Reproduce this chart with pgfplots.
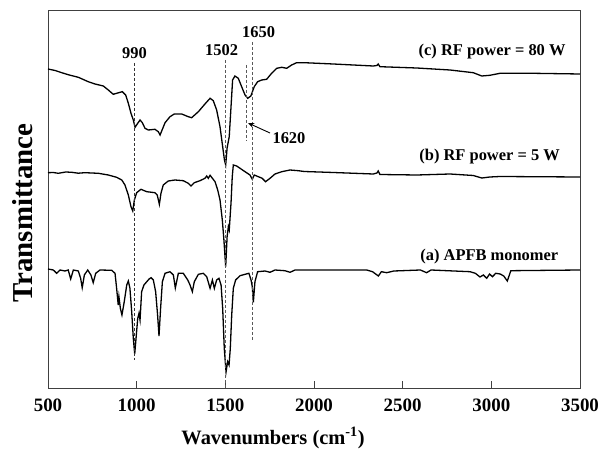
\documentclass[border=0pt]{standalone}
\usepackage{fontspec}
\setmainfont{Liberation Serif}
\usepackage{pgfplots}
\pgfplotsset{compat=1.18}
\usetikzlibrary{arrows.meta}

\begin{document}
\begin{tikzpicture}
\begin{axis}[
  scale only axis, width=532bp, height=378bp,
  xmin=500, xmax=3500, ymin=0, ymax=378,
  xtick={500,1000,1500,2000,2500,3000,3500}, ytick=\empty,
  xtick pos=bottom, tick align=inside, major tick length=7bp,
  axis line style={black!75, line width=0.8bp},
  every tick/.style={black!75, line width=0.8bp},
  /pgf/number format/1000 sep={},
  /pgf/number format/assume math mode=true,
  ticklabel style={font=\bfseries\fontsize{19}{19}\selectfont},
  xticklabel style={yshift=-7bp},
  xlabel={Wavenumbers (cm\textsuperscript{-1})},
  xlabel style={font=\bfseries\fontsize{20.5}{22}\selectfont, at={(axis description cs:0.423,-0.132)}, anchor=center},
  ylabel={Transmittance},
  ylabel style={font=\bfseries\fontsize{29}{30}\selectfont, at={(axis description cs:-0.047,0.463)}, anchor=center},
  clip=false,
]
% (c) RF power = 80 W
\addplot[black, line width=1.3bp] coordinates {
(500,319) (540,317.5) (577,315.3) (620,313) (671,310.7) (727,306.3) (765,304) (812,302) (840,298)
(868,293.7) (887,294.7) (919,296.3) (938,293) (953,284.7) (968,274.7) (981,268) (991,260.7)
(1006,264.7) (1019,268) (1032,265.3) (1047,259.7) (1066,258) (1103,258.7) (1122,256.3) (1132,253)
(1145,258.7) (1160,265.3) (1188,271.3) (1212,274) (1254,274) (1291,271.3) (1310,270.3) (1348,276.3)
(1385,284) (1414,289.7) (1432,287.3) (1451,278) (1470,261.3) (1485,241.3) (1495,228) (1502,223)
(1510,240) (1522,251.3) (1530,275) (1541,308) (1554,312) (1573,309.7) (1592,301.3) (1611,293)
(1626,289.7) (1644,292) (1663,301.3) (1682,306.3) (1705,308) (1733,308.7) (1761,314.7) (1790,319.7)
(1818,320.7) (1846,319.7) (1874,323) (1902,325.3) (1945,325.3) (2109,324) (2334,322) (2355,322.5)
(2362,324) (2372,321.3) (2579,320) (2767,318) (2898,315.3) (2946,312) (2992,312.7) (3049,314.7)
(3237,314.7) (3500,314)
};
% (b) RF power = 5 W
\addplot[black, line width=1.3bp] coordinates {
(500,215.3) (530,215.5) (558,214.7) (600,216) (634,215.7) (670,214.8) (709,215.3) (784,214.7) (840,213)
(887,210.7) (916,208) (934,203) (953,193) (968,181.3) (978,177) (987,188) (1000,195.3) (1024,198.7)
(1057,196.3) (1103,195.3) (1116,193) (1128,183.7) (1137,194.7) (1150,203) (1178,207) (1216,208)
(1263,207.3) (1291,204.7) (1306,202) (1325,205.3) (1357,207.3) (1385,209.7) (1395,212) (1404,209.7)
(1414,212.7) (1427,209.7) (1442,206.3) (1457,198) (1470,188) (1483,168) (1492,148) (1502,121.3)
(1510,151.3) (1517,161.3) (1522,158) (1532,184.7) (1539,211.3) (1545,223) (1564,222) (1583,219.7)
(1611,216.3) (1639,213) (1652,208.7) (1663,213) (1686,211.3) (1708,209.7) (1727,206.3) (1752,209.7)
(1780,214) (1818,216.3) (1865,218) (1911,217.3) (1945,216.5) (2109,215.5) (2334,214) (2355,215)
(2362,217) (2372,213.5) (2580,213) (2767,214) (2898,212.5) (2946,210) (2992,211) (3049,211.5) (3500,211)
};
% (a) APFB monomer
\addplot[black, line width=1.3bp] coordinates {
(500,119) (530,118) (549,114.7) (568,118) (596,117) (614,118) (628,109) (643,118) (671,117) (684,109.7)
(693,100.3) (705,113) (724,118) (742,113) (755,105.3) (769,114.7) (793,118) (859,117.7) (878,114.7)
(887,99.7) (896,83) (900,91.3) (908,79.7) (917,73) (930,86.3) (944,103) (953,107) (962,99.7) (972,76.3)
(981,49.7) (989,34) (998,53) (1006,69.7) (1013,74.7) (1019,68) (1028,96.3) (1041,103) (1057,106.3)
(1070,109) (1081,110.3) (1094,108) (1107,96.3) (1118,73) (1126,52) (1135,79.7) (1145,106.3) (1160,114.7)
(1188,116.3) (1207,113) (1218,100) (1235,114.7) (1263,114.7) (1288,108) (1301,103) (1314,96.3)
(1325,106.3) (1348,113.7) (1376,114.7) (1395,111.3) (1414,99.7) (1427,108) (1438,99.7) (1451,108)
(1464,109.7) (1476,103) (1485,79.7) (1494,39.7) (1504,16) (1513,26.3) (1521,23) (1528,39.7) (1536,73)
(1545,99.7) (1558,108) (1583,112.3) (1611,113.7) (1633,114.7) (1645,108) (1652,101.3) (1658,85.7)
(1667,106.3) (1682,116.3) (1724,117) (1752,115.7) (1780,118) (1836,117.3) (1865,115.7) (1893,118)
(1945,118) (2100,118) (2297,118) (2330,116.3) (2363,112) (2380,116.3) (2410,115.3) (2450,117)
(2600,118) (2635,115.3) (2660,118) (2880,116.3) (2910,114.7) (2936,111) (2955,113) (2974,109.7)
(2990,114) (3006,111.3) (3025,114.7) (3050,114) (3070,112) (3090,107) (3110,117.3) (3500,118)
};
% dashed reference lines
\addplot[black!80, line width=0.8bp, dash pattern=on 3bp off 2bp] coordinates {(990,325) (990,28)};
\addplot[black!65, line width=0.8bp, dash pattern=on 3bp off 2bp] coordinates {(1502,328) (1502,0)};
\addplot[black!65, line width=0.8bp, dash pattern=on 3bp off 2bp] coordinates {(1650,346) (1650,48)};
\addplot[black!65, line width=0.8bp, dash pattern=on 3bp off 2bp] coordinates {(1620,323) (1620,247)};
% annotations
\node[font=\bfseries\fontsize{16.5}{18}\selectfont] at (axis cs:988,335) {990};
\node[font=\bfseries\fontsize{16.5}{18}\selectfont] at (axis cs:1479,338) {1502};
\node[font=\bfseries\fontsize{16.5}{18}\selectfont] at (axis cs:1688,356) {1650};
\node[font=\bfseries\fontsize{16.5}{18}\selectfont] at (axis cs:1859,250) {1620};
\draw[black, line width=0.9bp, -{Stealth[length=6bp,width=5bp]}] (axis cs:1752,255) -- (axis cs:1628,265);
\node[anchor=east, font=\bfseries\fontsize{16.5}{18}\selectfont] at (axis cs:3438,336) {(c) RF power = 80 W};
\node[anchor=east, font=\bfseries\fontsize{16.5}{18}\selectfont] at (axis cs:3406,231) {(b) RF power = 5 W};
\node[anchor=east, font=\bfseries\fontsize{16.5}{18}\selectfont] at (axis cs:3397,131.3) {(a) APFB monomer};
\end{axis}
\pgfresetboundingbox
\path ([shift={(-48bp,-66bp)}]current axis.south west) rectangle ([shift={(22bp,10bp)}]current axis.north east);
\end{tikzpicture}
\end{document}
